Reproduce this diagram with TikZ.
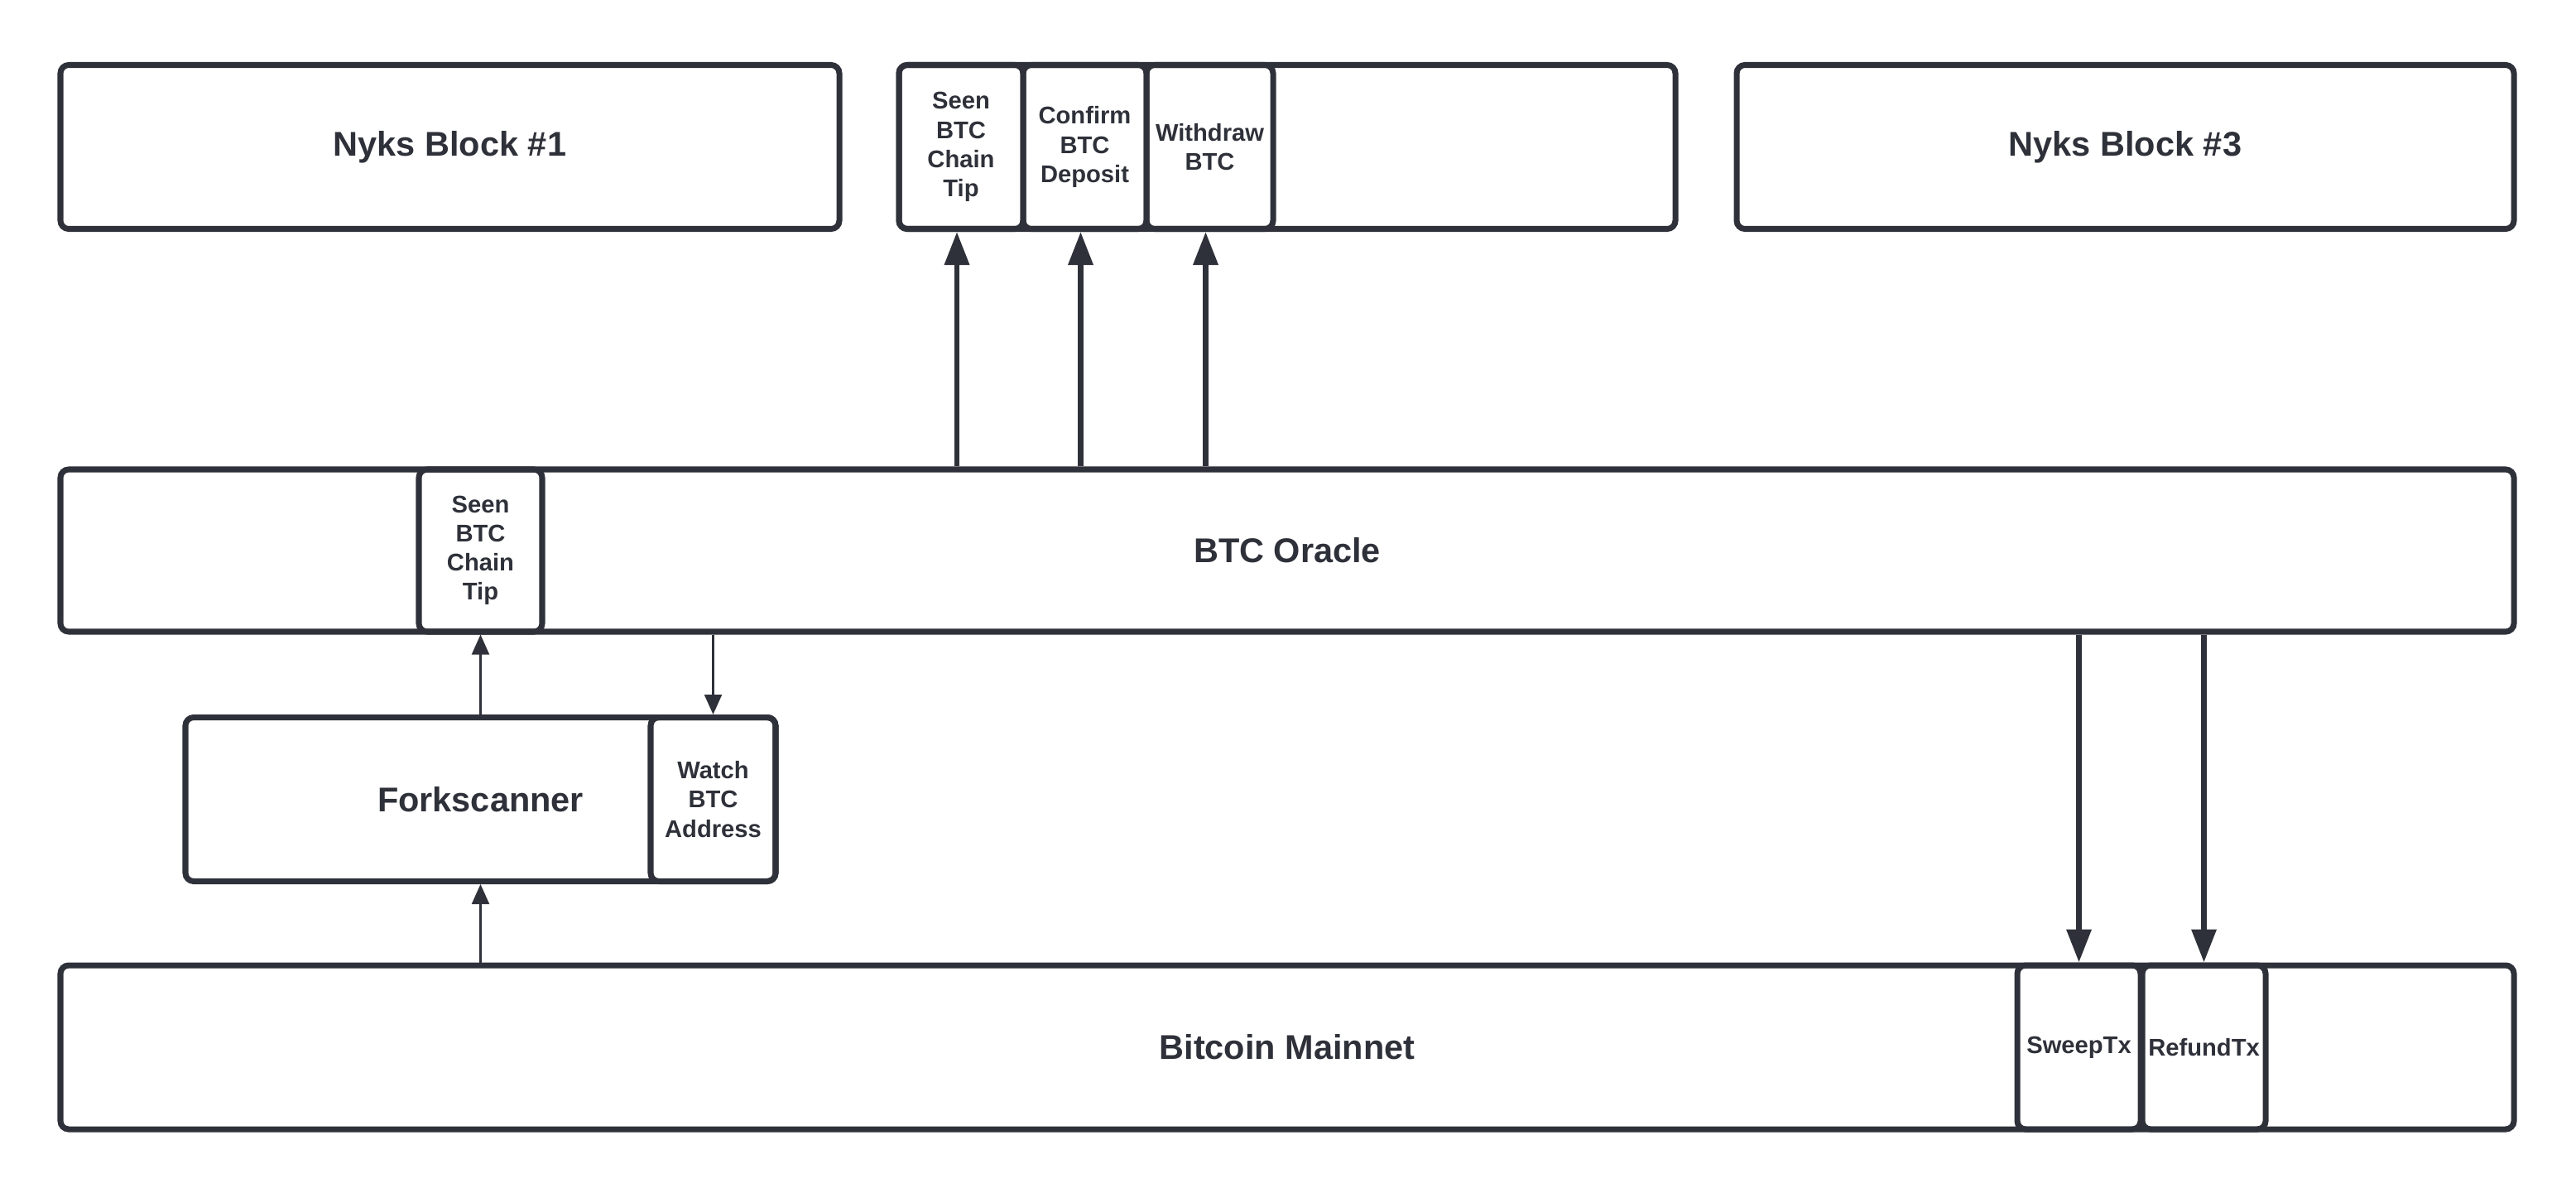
\documentclass[tikz,border=0pt]{standalone}
\usepackage{fontspec}
\setmainfont{Liberation Sans}
\usetikzlibrary{arrows.meta}
\definecolor{mgray}{RGB}{46, 49, 57}
\tikzset{blk/.style = {draw=mgray, line width=2pt, rounded corners=1mm, inner sep=0, text=mgray, font=\fontsize{11.8}{14}\selectfont\bfseries}}
\tikzset{cell/.style = {blk, align=center, font=\fontsize{8.3}{10}\selectfont\bfseries}}
\tikzset{bigarr/.style = {draw=mgray, line width=1.9pt, -{Triangle[length=4mm, width=2.9mm]}}}
\tikzset{thinarr/.style = {draw=mgray, line width=0.6pt, -{Triangle[length=2.4mm, width=2.1mm]}}}

\begin{document}
\begin{tikzpicture}
      \useasboundingbox (0, 0) rectangle (31.12, -14.40);
      % nyks chain
      \node [blk, minimum width=9.41cm, minimum height=1.98cm] (nyks1) at (5.435, -1.775) {Nyks Block \#1};
      \node [blk, minimum width=9.38cm, minimum height=1.98cm] (nyks2) at (15.55, -1.775) {};
      \node [blk, minimum width=9.39cm, minimum height=1.98cm] (nyks3) at (25.675, -1.775) {Nyks Block \#3};
      \node [cell, minimum width=1.50cm, minimum height=1.98cm] (tip1) at (11.61, -1.775) {Seen\\BTC\\Chain\\Tip};
      \node [cell, minimum width=1.49cm, minimum height=1.98cm] (deposit) at (13.105, -1.775) {Confirm\\BTC\\Deposit};
      \node [cell, minimum width=1.53cm, minimum height=1.98cm] (withdraw) at (14.615, -1.775) {Withdraw\\BTC};
      % oracle
      \node [blk, minimum width=29.64cm, minimum height=1.96cm] (oracle) at (15.55, -6.65) {BTC Oracle};
      \node [cell, minimum width=1.49cm, minimum height=1.96cm] (tip2) at (5.805, -6.65) {Seen\\BTC\\Chain\\Tip};
      % forkscanner
      \node [blk, minimum width=7.13cm, minimum height=1.98cm] (fork) at (5.805, -9.655) {Forkscanner};
      \node [cell, minimum width=1.51cm, minimum height=1.98cm] (watch) at (8.615, -9.655) {Watch\\BTC\\Address};
      % bitcoin
      \node [blk, minimum width=29.64cm, minimum height=1.98cm] (mainnet) at (15.55, -12.65) {Bitcoin Mainnet};
      \node [cell, minimum width=1.49cm, minimum height=1.98cm] (sweep) at (25.115, -12.65) {SweepTx};
      \node [cell, minimum width=1.49cm, minimum height=1.98cm] (refund) at (26.625, -12.65) {RefundTx};
      % arrows
      \foreach \c in {tip1, deposit, withdraw} {
        \draw [bigarr] ([xshift=-0.5mm]oracle.north -| \c.south) -- ([xshift=-0.5mm]\c.south);
      }
      \foreach \c in {sweep, refund} {
        \draw [bigarr] (oracle.south -| \c.north) -- (\c.north);
      }
      \draw [thinarr] (fork.north -| tip2.south) -- (tip2.south);
      \draw [thinarr] (oracle.south -| watch.north) -- (watch.north);
      \draw [thinarr] (mainnet.north -| fork.south) -- (fork.south);
    \end{tikzpicture}
\end{document}
